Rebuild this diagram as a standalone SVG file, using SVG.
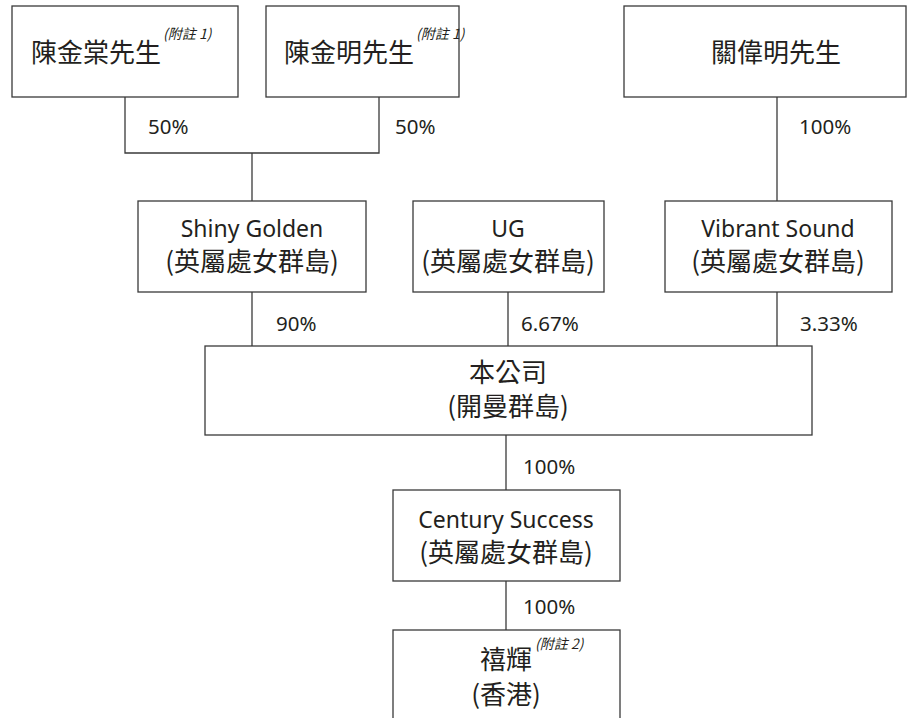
<svg xmlns="http://www.w3.org/2000/svg" width="916" height="718" viewBox="0 0 916 718">
<style>
.box{fill:#fff;stroke:#3a3a3a;stroke-width:1.3}
.ln{fill:none;stroke:#3a3a3a;stroke-width:1.3}
.t{font-family:"Noto Sans","Noto Sans CJK TC",sans-serif;fill:#231f20;text-anchor:middle}
.cjk{font-family:"Noto Sans CJK TC","Noto Sans",sans-serif;font-size:26px;fill:#231f20}
.en{font-size:23px}
.pct{font-family:"Noto Sans",sans-serif;font-size:20.5px;fill:#231f20}
.sup{font-family:"Noto Sans CJK TC","Noto Sans",sans-serif;font-size:14px;font-style:italic;fill:#231f20}
</style>
<rect width="916" height="718" fill="#fff"/>
<g id="connectors">
<polyline class="ln" points="125,97 125,153 379,153 379,97"/>
<line class="ln" x1="252" y1="153" x2="252" y2="201"/>
<line class="ln" x1="777" y1="97" x2="777" y2="201"/>
<line class="ln" x1="252" y1="292" x2="252" y2="346"/>
<line class="ln" x1="508" y1="292" x2="508" y2="346"/>
<line class="ln" x1="777" y1="292" x2="777" y2="346"/>
<line class="ln" x1="506" y1="435" x2="506" y2="490"/>
<line class="ln" x1="506" y1="581" x2="506" y2="630"/>
<text class="pct" x="148" y="134">50%</text>
<text class="pct" x="395" y="134">50%</text>
<text class="pct" x="799" y="134">100%</text>
<text class="pct" x="276" y="331">90%</text>
<text class="pct" x="521" y="331">6.67%</text>
<text class="pct" x="800" y="331">3.33%</text>
<text class="pct" x="523" y="474">100%</text>
<text class="pct" x="523" y="614">100%</text>
</g>
<g id="n1">
<rect class="box" x="12" y="6" width="226" height="91"/>
<text class="cjk" x="31" y="62">陳金棠先生<tspan class="sup" dx="2" dy="-23">(附註 1)</tspan></text>
</g>
<g id="n2">
<rect class="box" x="266" y="6" width="193" height="91"/>
<text class="cjk" x="284" y="62">陳金明先生<tspan class="sup" dx="2" dy="-23">(附註 1)</tspan></text>
</g>
<g id="n3">
<rect class="box" x="624" y="6" width="282" height="91"/>
<text class="cjk" x="776" y="62" text-anchor="middle">關偉明先生</text>
</g>
<g id="n4">
<rect class="box" x="138" y="201" width="228" height="91"/>
<text class="t en" x="252" y="237">Shiny Golden</text>
<text class="cjk" x="252" y="271" text-anchor="middle">(英屬處女群島)</text>
</g>
<g id="n5">
<rect class="box" x="413" y="201" width="191" height="91"/>
<text class="t en" x="508" y="237">UG</text>
<text class="cjk" x="508" y="271" text-anchor="middle">(英屬處女群島)</text>
</g>
<g id="n6">
<rect class="box" x="665" y="201" width="227" height="91"/>
<text class="t en" x="778" y="237">Vibrant Sound</text>
<text class="cjk" x="778" y="271" text-anchor="middle">(英屬處女群島)</text>
</g>
<g id="n7">
<rect class="box" x="205" y="346" width="607" height="89"/>
<text class="cjk" x="508" y="382" text-anchor="middle">本公司</text>
<text class="cjk" x="508" y="416" text-anchor="middle">(開曼群島)</text>
</g>
<g id="n8">
<rect class="box" x="393" y="490" width="227" height="91"/>
<text class="t en" x="506" y="528">Century Success</text>
<text class="cjk" x="506" y="562" text-anchor="middle">(英屬處女群島)</text>
</g>
<g id="n9">
<rect class="box" x="393" y="630" width="227" height="100"/>
<text class="cjk" x="480" y="669">禧輝<tspan class="sup" dx="3" dy="-20">(附註 2)</tspan></text>
<text class="cjk" x="506" y="704" text-anchor="middle">(香港)</text>
</g>
</svg>
